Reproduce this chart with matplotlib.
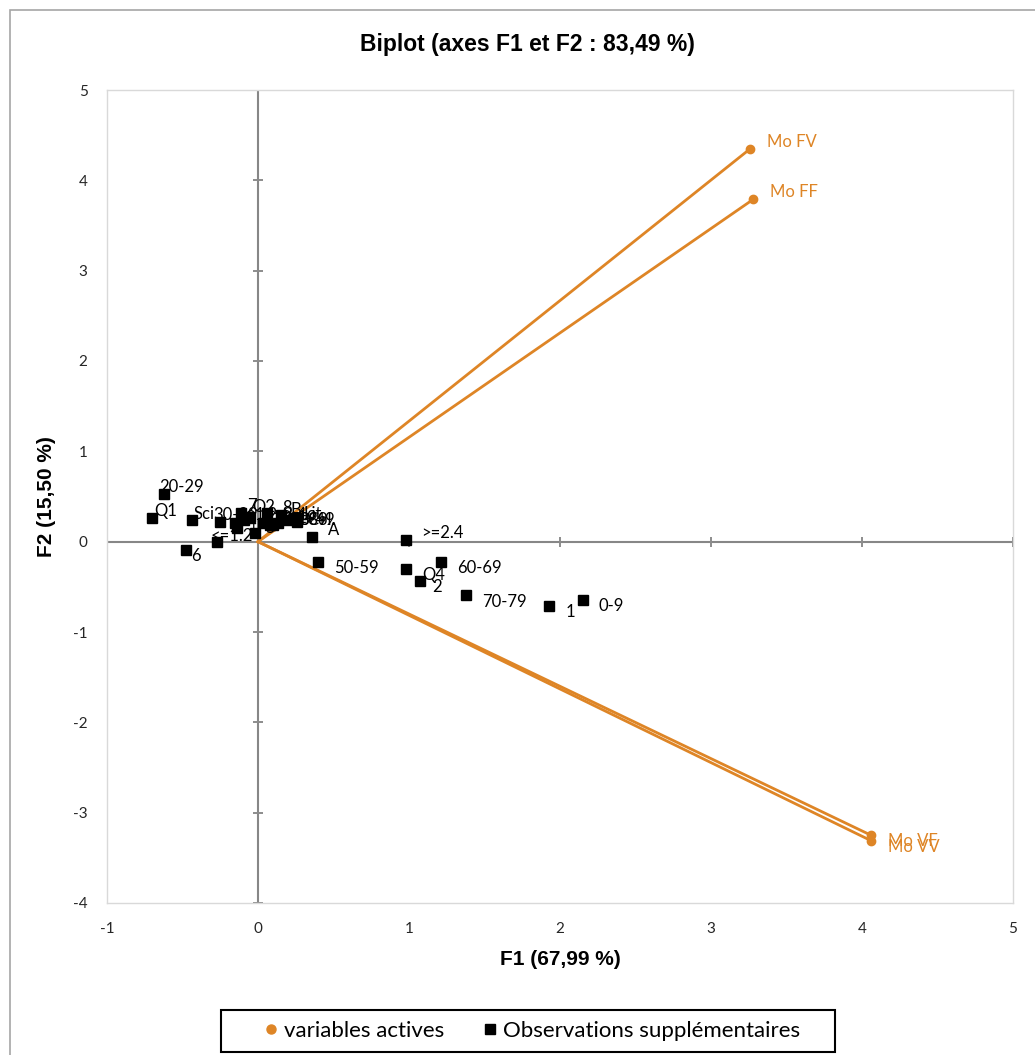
import matplotlib
matplotlib.use("Agg")
import matplotlib.pyplot as plt
from matplotlib.lines import Line2D
from matplotlib.patches import Rectangle

plt.rcParams["axes.unicode_minus"] = False

# variables actives (extremites des fleches)
var_names = ["Mo FV", "Mo FF", "Mo VF", "Mo VV"]
var_f1 = [3.26, 3.28, 4.06, 4.06]
var_f2 = [4.35, 3.79, -3.25, -3.31]

# observations supplementaires
obs_names = ["20-29", "Q1", "Sci", "30-39", "6", "<=1.2", "A", ">=2.4", "50-59",
             "Q4", "2", "60-69", "70-79", "1", "0-9",
             "7", "O2", "8", "Lit.", "Col.", "3", "4", "5", "Q3", "40-49",
             "10-19", "B", "C", "1.2-2.4", "80-89"]
obs_f1 = [-0.62, -0.70, -0.44, -0.25, -0.48, -0.27, 0.36, 0.98, 0.40,
          0.98, 1.07, 1.21, 1.38, 1.93, 2.15,
          -0.11, -0.05, 0.06, 0.26, 0.26, -0.15, -0.14, -0.02, 0.13, 0.19,
          0.03, 0.15, 0.08, -0.09, 0.10]
obs_f2 = [0.53, 0.26, 0.24, 0.22, -0.09, 0.00, 0.05, 0.02, -0.22,
          -0.30, -0.44, -0.22, -0.59, -0.71, -0.65,
          0.32, 0.27, 0.32, 0.22, 0.26, 0.21, 0.15, 0.10, 0.21, 0.24,
          0.21, 0.30, 0.18, 0.24, 0.19]

# decalage des etiquettes (pixels)
obs_dx = [-5, 2, 2, -7, 6, -7, 16, 15, 16, 16, 13, 16, 16, 16, 16,
          6, 2, 15, 6, 10, 10, 10, 10, 10, 4, 10, 10, 10, 10, 10]
obs_dy = [7, 7, 6, 7, -6, 6, 7, 7, -6, -6, -6, -6, -7, -6, -6,
          7, 10, 5, 8, -2, 5, 5, 5, 3, 0, 5, 5, 5, 5, 5]

x_ticks = [-1, 0, 1, 2, 3, 4, 5]
y_ticks = [-4, -3, -2, -1, 0, 1, 2, 3, 4, 5]

orange = "#DE8526"
label_font = ["Lato", "DejaVu Sans"]
head_font = ["Liberation Sans Narrow", "Liberation Sans", "DejaVu Sans"]

fig = plt.figure(figsize=(10.35, 10.55), dpi=100)
ax = fig.add_axes([107 / 1035, 1 - 903 / 1055, 906 / 1035, 813 / 1055])

# cadre exterieur du graphique
fig.patches.append(Rectangle((10 / 1035, -0.01), 1.02, 1 - 10 / 1055 + 0.01,
                             transform=fig.transFigure, fill=False,
                             edgecolor="#A6A6A6", linewidth=1.2))

ax.set_xlim(-1, 5)
ax.set_ylim(-4, 5)
for s in ax.spines.values():
    s.set_color("#D9D9D9")
    s.set_linewidth(1.0)
ax.set_xticks(x_ticks)
ax.set_yticks(y_ticks)
ax.tick_params(length=0, labelsize=11, colors="#262626", pad=14)
for lab in ax.get_xticklabels() + ax.get_yticklabels():
    lab.set_family(label_font)

# axes passant par zero avec graduations
ax.axhline(0, color="#878787", linewidth=1.5, zorder=1)
ax.axvline(0, color="#878787", linewidth=1.5, zorder=1)
ax.plot(x_ticks, [0] * len(x_ticks), linestyle="none", marker="|",
        markersize=7, color="#8C8C8C", markeredgewidth=1.4, zorder=1)
ax.plot([0] * len(y_ticks), y_ticks, linestyle="none", marker="_",
        markersize=7, color="#8C8C8C", markeredgewidth=1.4, zorder=1)

# fleches des variables actives
for x, y in zip(var_f1, var_f2):
    ax.plot([0, x], [0, y], color=orange, linewidth=2, zorder=2)
ax.plot(var_f1, var_f2, linestyle="none", marker="o", markersize=6,
        color=orange, zorder=3)
for name, x, y in zip(var_names, var_f1, var_f2):
    dy = 7 if y > 0 else -6
    ax.annotate(name, (x, y), xytext=(17, dy), textcoords="offset pixels",
                color=orange, fontsize=12, family=label_font,
                ha="left", va="center")

# observations
ax.plot(obs_f1, obs_f2, linestyle="none", marker="s", markersize=6.5,
        color="black", zorder=4)
for name, x, y, dx, dy in zip(obs_names, obs_f1, obs_f2, obs_dx, obs_dy):
    ax.annotate(name, (x, y), xytext=(dx, dy), textcoords="offset pixels",
                color="black", fontsize=12, family=label_font,
                ha="left", va="center", zorder=5)

ax.set_xlabel("F1 (67,99 %)", fontsize=15, fontweight="bold",
              family=head_font, labelpad=10)
ax.set_ylabel("F2 (15,50 %)", fontsize=15, fontweight="bold",
              family=head_font, labelpad=12)
fig.text(0.5095, 1 - 45 / 1055, "Biplot (axes F1 et F2 : 83,49 %)",
         ha="center", va="center", fontsize=16.5, fontweight="bold",
         family=head_font)

# legende avec cadre dessine a part
fig.patches.append(Rectangle((221 / 1035, 1 - 1052 / 1055), 614 / 1035,
                             42 / 1055, transform=fig.transFigure,
                             fill=False, edgecolor="black", linewidth=1.5))
handles = [
    Line2D([], [], linestyle="none", marker="o", markersize=6.5, color=orange,
           label="variables actives"),
    Line2D([], [], linestyle="none", marker="s", markersize=6.5, color="black",
           label="Observations supplémentaires"),
]
fig.legend(handles=handles, loc="center", ncol=2,
           bbox_to_anchor=(530 / 1035, 1 - 1031 / 1055),
           frameon=False, prop={"family": label_font, "size": 16},
           handletextpad=0.05, columnspacing=1.6, handlelength=1.0)

fig.savefig("out.png", dpi=100)
